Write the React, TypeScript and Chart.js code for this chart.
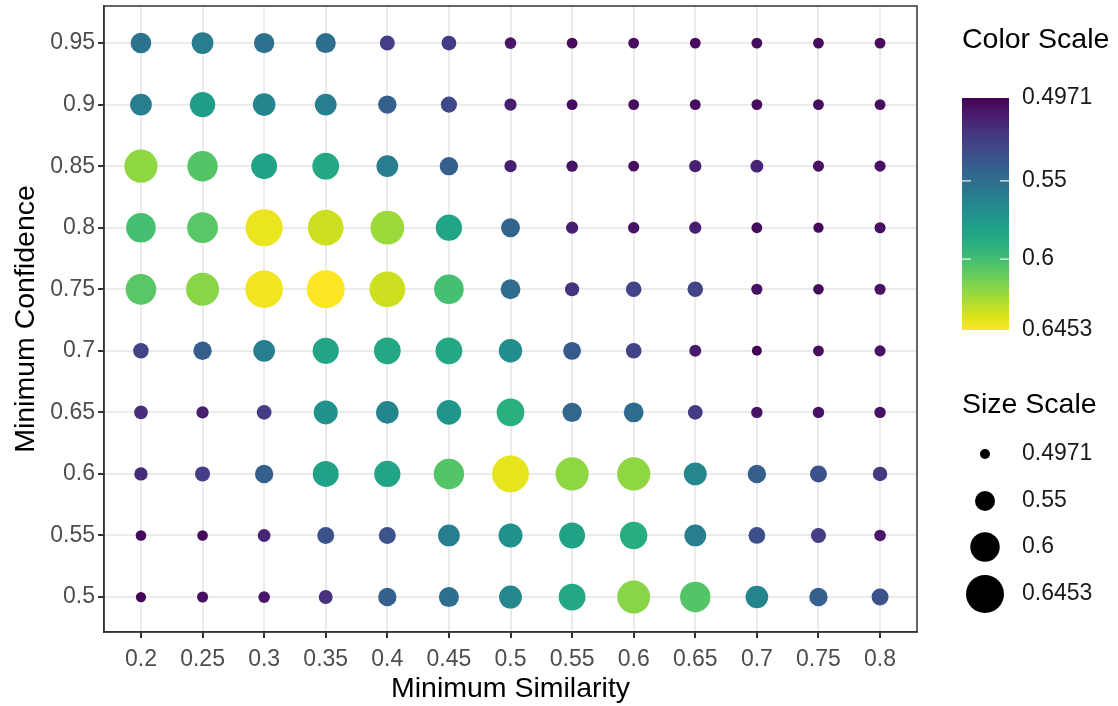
import React, { useEffect, useRef } from "react";
import { Chart, registerables } from "chart.js";

Chart.register(...registerables);

const similarity = [0.2, 0.25, 0.3, 0.35, 0.4, 0.45, 0.5, 0.55, 0.6, 0.65, 0.7, 0.75, 0.8];
const similarityLabels = ["0.2", "0.25", "0.3", "0.35", "0.4", "0.45", "0.5", "0.55", "0.6", "0.65", "0.7", "0.75", "0.8"];
const confidence = [0.5, 0.55, 0.6, 0.65, 0.7, 0.75, 0.8, 0.85, 0.9, 0.95];
const confidenceLabels = ["0.5", "0.55", "0.6", "0.65", "0.7", "0.75", "0.8", "0.85", "0.9", "0.95"];

// values per confidence row, ordered by similarity 0.2 .. 0.8
const conf050 = [0.4986, 0.5030, 0.5060, 0.5178, 0.5416, 0.5505, 0.5653, 0.5860, 0.6186, 0.6053, 0.5638, 0.5416, 0.5342];
const conf055 = [0.5001, 0.5001, 0.5119, 0.5342, 0.5342, 0.5593, 0.5712, 0.5816, 0.5890, 0.5593, 0.5327, 0.5238, 0.5060];
const conf060 = [0.5149, 0.5238, 0.5416, 0.5816, 0.5831, 0.6053, 0.6394, 0.6201, 0.6201, 0.5653, 0.5416, 0.5342, 0.5208];
const conf065 = [0.5164, 0.5090, 0.5223, 0.5712, 0.5638, 0.5742, 0.5905, 0.5460, 0.5490, 0.5223, 0.5045, 0.5045, 0.5045];
const conf070 = [0.5267, 0.5416, 0.5593, 0.5831, 0.5860, 0.5860, 0.5682, 0.5386, 0.5267, 0.5075, 0.4971, 0.5015, 0.5030];
const conf075 = [0.6068, 0.6186, 0.6423, 0.6453, 0.6334, 0.6008, 0.5490, 0.5193, 0.5267, 0.5267, 0.5030, 0.5001, 0.5030];
const conf080 = [0.6008, 0.6068, 0.6409, 0.6334, 0.6231, 0.5831, 0.5445, 0.5090, 0.5045, 0.5090, 0.5015, 0.4986, 0.5030];
const conf085 = [0.6201, 0.6053, 0.5816, 0.5860, 0.5593, 0.5416, 0.5090, 0.5045, 0.5015, 0.5090, 0.5119, 0.5030, 0.5030];
const conf090 = [0.5593, 0.5786, 0.5638, 0.5593, 0.5416, 0.5297, 0.5090, 0.5015, 0.5015, 0.5015, 0.5015, 0.5015, 0.5015];
const conf095 = [0.5534, 0.5593, 0.5519, 0.5505, 0.5238, 0.5223, 0.5060, 0.5015, 0.5015, 0.5015, 0.5015, 0.5015, 0.5015];

const rows = [conf050, conf055, conf060, conf065, conf070, conf075, conf080, conf085, conf090, conf095];

const valueMin = 0.4971;
const valueMax = 0.6453;
const legendBreaks = [0.4971, 0.55, 0.6, 0.6453];
const legendBreakLabels = ["0.4971", "0.55", "0.6", "0.6453"];

const viridis = [
  "#440154", "#48186a", "#472d7b", "#424086", "#3b528b", "#33638d", "#2c728e", "#26828e",
  "#21918c", "#1fa088", "#28ae80", "#3fbc73", "#5ec962", "#84d44b", "#addc30", "#d8e219", "#fde725",
];

function hexToRgb(h: string) {
  return [parseInt(h.slice(1, 3), 16), parseInt(h.slice(3, 5), 16), parseInt(h.slice(5, 7), 16)];
}

function colorFor(v: number) {
  let t = (v - valueMin) / (valueMax - valueMin);
  t = Math.max(0, Math.min(1, t));
  const pos = t * (viridis.length - 1);
  const i = Math.min(Math.floor(pos), viridis.length - 2);
  const f = pos - i;
  const a = hexToRgb(viridis[i]);
  const b = hexToRgb(viridis[i + 1]);
  const c = a.map((x, k) => Math.round(x + (b[k] - x) * f));
  return `rgb(${c[0]},${c[1]},${c[2]})`;
}

const D_MIN = 10;
const D_MAX = 38;
function radiusFor(v: number) {
  const t = (v - valueMin) / (valueMax - valueMin);
  return (D_MIN + t * (D_MAX - D_MIN)) / 2;
}

const FONT = "'Liberation Sans', Arial, Helvetica, sans-serif";
const TICK_SIZE = 23;
const TITLE_SIZE = 28.5;

export default function App() {
  const ref = useRef<HTMLCanvasElement | null>(null);

  useEffect(() => {
    if (!ref.current) return;
    const points: { x: number; y: number; v: number }[] = [];
    rows.forEach((row, ri) => {
      row.forEach((v, ci) => {
        points.push({ x: similarity[ci], y: confidence[ri], v });
      });
    });

    const decor = {
      id: "decor",
      afterDraw(chart: any) {
        const ctx = chart.ctx;
        const a = chart.chartArea;
        ctx.save();
        // panel border
        ctx.strokeStyle = "#333333";
        ctx.lineWidth = 1.5;
        ctx.strokeRect(a.left, a.top, a.right - a.left, a.bottom - a.top);

        // axis titles
        ctx.fillStyle = "#000000";
        ctx.font = `${TITLE_SIZE}px ${FONT}`;
        ctx.textAlign = "center";
        ctx.textBaseline = "middle";
        ctx.fillText("Minimum Similarity", (a.left + a.right) / 2, 689);
        ctx.save();
        ctx.translate(26, (a.top + a.bottom) / 2);
        ctx.rotate(-Math.PI / 2);
        ctx.fillText("Minimum Confidence", 0, 0);
        ctx.restore();

        // colour legend
        const bx = 962, bw = 47, by0 = 98, by1 = 330;
        ctx.textAlign = "left";
        ctx.textBaseline = "middle";
        ctx.fillText("Color Scale", 962, 40);
        const grad = ctx.createLinearGradient(0, by0, 0, by1);
        viridis.forEach((c, i) => grad.addColorStop(i / (viridis.length - 1), c));
        ctx.fillStyle = grad;
        ctx.fillRect(bx, by0, bw, by1 - by0);
        ctx.font = `${TICK_SIZE}px ${FONT}`;
        legendBreaks.forEach((b, i) => {
          const yy = by0 + ((b - valueMin) / (valueMax - valueMin)) * (by1 - by0);
          if (i > 0 && i < legendBreaks.length - 1) {
            ctx.strokeStyle = "rgba(255,255,255,0.9)";
            ctx.lineWidth = 1.2;
            ctx.beginPath();
            ctx.moveTo(bx, yy);
            ctx.lineTo(bx + 9, yy);
            ctx.moveTo(bx + bw - 9, yy);
            ctx.lineTo(bx + bw, yy);
            ctx.stroke();
          }
          ctx.fillStyle = "#1a1a1a";
          ctx.fillText(legendBreakLabels[i], 1022, yy);
        });

        // size legend
        ctx.fillStyle = "#000000";
        ctx.font = `${TITLE_SIZE}px ${FONT}`;
        ctx.fillText("Size Scale", 962, 405);
        const sy = [454, 501, 547, 594];
        ctx.font = `${TICK_SIZE}px ${FONT}`;
        legendBreaks.forEach((b, i) => {
          ctx.fillStyle = "#000000";
          ctx.beginPath();
          ctx.arc(985, sy[i], radiusFor(b), 0, Math.PI * 2);
          ctx.fill();
          ctx.fillStyle = "#1a1a1a";
          ctx.fillText(legendBreakLabels[i], 1022, sy[i]);
        });
        ctx.restore();
      },
    };

    const chart = new Chart(ref.current, {
      type: "scatter",
      data: {
        datasets: [
          {
            data: points as any,
            pointRadius: (c: any) => radiusFor(c.raw ? c.raw.v : valueMin),
            pointBackgroundColor: (c: any) => colorFor(c.raw ? c.raw.v : valueMin),
            pointBorderWidth: 0,
            pointBorderColor: "rgba(0,0,0,0)",
            pointHoverRadius: (c: any) => radiusFor(c.raw ? c.raw.v : valueMin),
          },
        ],
      },
      options: {
        animation: false,
        responsive: false,
        events: [],
        layout: { autoPadding: false, padding: { top: 6, right: 201, left: 0, bottom: 0 } },
        plugins: { legend: { display: false }, tooltip: { enabled: false } },
        scales: {
          x: {
            type: "linear",
            min: 0.17,
            max: 0.83,
            afterBuildTicks: (s: any) => {
              s.ticks = similarity.map((v) => ({ value: v }));
            },
            afterFit: (s: any) => {
              s.height = 74;
              s.paddingLeft = 0;
              s.paddingRight = 0;
            },
            ticks: {
              autoSkip: false,
              maxRotation: 0,
              padding: 8,
              color: "#4d4d4d",
              font: { family: FONT, size: TICK_SIZE },
              callback: (_v: any, i: number) => similarityLabels[i],
            },
            grid: { color: "#ebebeb", lineWidth: 2, tickColor: "#333333", tickWidth: 2, tickLength: 6 },
            border: { display: true, color: "#333333", width: 1.5 },
          },
          y: {
            type: "linear",
            min: 0.4716,
            max: 0.9801,
            afterBuildTicks: (s: any) => {
              s.ticks = confidence.map((v) => ({ value: v }));
            },
            afterFit: (s: any) => {
              s.width = 104;
              s.paddingTop = 0;
              s.paddingBottom = 0;
            },
            ticks: {
              autoSkip: false,
              padding: 3,
              color: "#4d4d4d",
              font: { family: FONT, size: TICK_SIZE },
              callback: (_v: any, i: number) => confidenceLabels[i],
            },
            grid: { color: "#ebebeb", lineWidth: 2, tickColor: "#333333", tickWidth: 2, tickLength: 6 },
            border: { display: true, color: "#333333", width: 1.5 },
          },
        },
      },
      plugins: [decor],
    } as any);
    return () => chart.destroy();
  }, []);

  return (
    <div style={{ position: "fixed", left: 0, top: 0, width: 1118, height: 706, background: "#ffffff" }}>
      <canvas ref={ref} width={1118} height={706} style={{ display: "block" }} />
    </div>
  );
}
